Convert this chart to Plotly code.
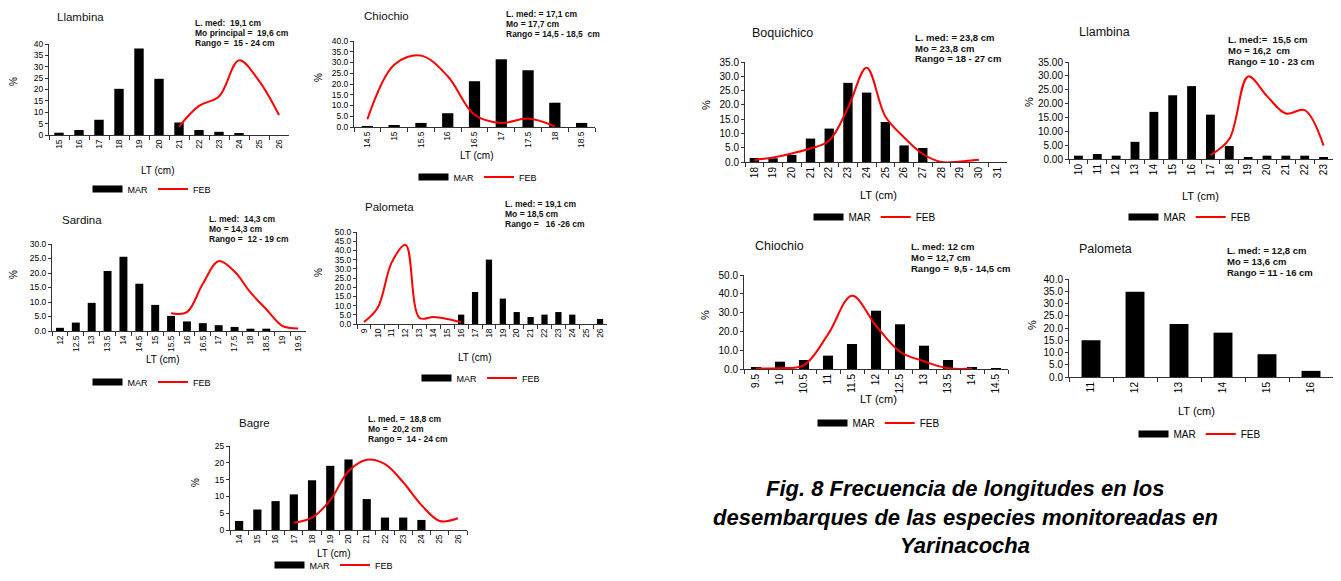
import plotly.graph_objects as go

# window is 1341x581; the page body keeps its default 8px margin, so the
# figure is sized to fit exactly inside it and reference pixels are offset by 8
WIN_W, WIN_H = 1341, 581
OFF = 8
W, H = WIN_W - 2 * OFF, WIN_H - 2 * OFF
FONT = "Liberation Sans, Arial, sans-serif"

# ---------------- data ----------------
llambina1_lt = ["15", "16", "17", "18", "19", "20", "21", "22", "23", "24", "25", "26"]
llambina1_mar = [1.0, 2.2, 6.7, 20.3, 38.0, 24.7, 5.5, 2.2, 1.4, 0.5, 0, 0]
llambina1_feb = [None, None, None, None, None, None, 3.7, 12.8, 16.9, 32.8, 23.8, 8.8]
llambina1_stats = ["L. med:  19,1 cm", "Mo principal =  19,6 cm", "Rango =  15 - 24 cm"]

chiochio1_lt = ["14.5", "15", "15.5", "16", "16.5", "17", "17.5", "18", "18.5"]
chiochio1_mar = [0.3, 0.6, 1.9, 6.4, 21.3, 31.5, 26.4, 11.3, 1.9]
chiochio1_feb = [3.6, 29.0, 33.2, 23.6, 5.7, 1.9, 3.9, 0.3, None]
chiochio1_stats = ["L. med: = 17,1 cm", "Mo = 17,7 cm", "Rango = 14,5 - 18,5  cm"]

sardina_lt = ["12", "12.5", "13", "13.5", "14", "14.5", "15", "15.5", "16", "16.5",
              "17", "17.5", "18", "18.5", "19", "19.5"]
sardina_mar = [1.1, 2.9, 9.7, 20.7, 25.6, 16.3, 9.0, 5.2, 3.3, 2.7, 2.0, 1.4, 0.8, 0.8, 0, 0]
sardina_feb = [None, None, None, None, None, None, None, 6.1, 6.5, 16.3, 24.1, 20.5, 13.3, 7.5, 1.8, 0.9]
sardina_stats = ["L. med:  14,3 cm", "Mo = 14,3 cm", "Rango =  12 - 19 cm"]

palometa1_lt = ["9", "10", "11", "12", "13", "14", "15", "16", "17", "18", "19", "20",
                "21", "22", "23", "24", "25", "26"]
palometa1_mar = [0, 0, 0, 0, 0, 0, 0, 5.1, 17.4, 35.0, 13.8, 6.5, 3.8, 5.1, 6.5, 5.1, 0, 2.7]
palometa1_feb = [1.1, 9.0, 33.5, 43.0, 3.3, 3.8, 2.7, 0.9, None, None, None, None, None,
                 None, None, None, None, None]
palometa1_stats = ["L. med: = 19,1 cm", "Mo = 18,5 cm", "Rango =   16 -26 cm"]

bagre_lt = ["14", "15", "16", "17", "18", "19", "20", "21", "22", "23", "24", "25", "26"]
bagre_mar = [2.7, 6.1, 8.6, 10.6, 14.8, 19.1, 21.0, 9.2, 3.7, 3.7, 3.0, 0, 0]
bagre_feb = [None, None, None, 2.2, 3.7, 8.9, 17.5, 20.9, 19.6, 14.2, 7.4, 2.7, 3.5]
bagre_stats = ["L. med. =  18,8 cm", "Mo =  20,2 cm", "Rango =  14 - 24 cm"]

boquichico_lt = ["18", "19", "20", "21", "22", "23", "24", "25", "26", "27", "28", "29", "30", "31"]
boquichico_mar = [1.4, 1.3, 2.5, 8.2, 11.7, 27.7, 24.3, 14.0, 5.8, 4.9, 0, 0, 0, 0]
boquichico_feb = [0.7, 1.6, 3.0, 4.7, 7.5, 18.9, 33.0, 15.9, 8.6, 2.8, 0.0, 0.2, 0.8, None]
boquichico_stats = ["L. med: = 23,8 cm", "Mo = 23,8 cm", "Rango = 18 - 27 cm"]

llambina2_lt = ["10", "11", "12", "13", "14", "15", "16", "17", "18", "19", "20", "21", "22", "23"]
llambina2_mar = [1.2, 1.8, 1.2, 6.2, 17.0, 23.0, 26.3, 16.0, 4.7, 0.6, 1.2, 1.2, 1.2, 0.6]
llambina2_feb = [None, None, None, None, None, None, None, 1.4, 7.2, 29.8, 22.7, 16.4, 17.6, 4.8]
llambina2_stats = ["L. med:=  15,5 cm", "Mo = 16,2  cm", "Rango = 10 - 23 cm"]

chiochio2_lt = ["9.5", "10", "10.5", "11", "11.5", "12", "12.5", "13", "13.5", "14", "14.5"]
chiochio2_mar = [0.9, 3.9, 4.8, 7.1, 13.3, 31.0, 23.8, 12.4, 4.8, 0.7, 0.5]
chiochio2_feb = [0.3, 0.4, 2.1, 18.4, 39.0, 23.0, 9.2, 4.1, 0.4, 0.2, None]
chiochio2_stats = ["L. med: 12 cm", "Mo = 12,7 cm", "Rango =  9,5 - 14,5 cm"]

palometa2_lt = ["11", "12", "13", "14", "15", "16"]
palometa2_mar = [15.0, 34.8, 21.6, 18.1, 9.3, 2.5]
palometa2_feb = [None, None, None, None, None, None]
palometa2_stats = ["L. med: = 12,8 cm", "Mo = 13,6 cm", "Rango = 11 - 16 cm"]

caption_lines = ["Fig. 8 Frecuencia de longitudes en los",
                 "desembarques de las especies monitoreadas en",
                 "Yarinacocha"]

# ---------------- layout config (reference window pixels) ----------------
panels = [
    dict(title="Llambina", lt=llambina1_lt, mar=llambina1_mar, feb=llambina1_feb, stats=llambina1_stats,
         box=(49, 289, 44, 135), ymax=40, dtick=5, fmt="d", title_xy=(55, 17), stats_xy=(193, 23),
         pct_xy=(13, 82), lt_xy=(158, 170), leg_xy=(152, 189), big=False, bw=0.47),
    dict(title="Chiochio", lt=chiochio1_lt, mar=chiochio1_mar, feb=chiochio1_feb, stats=chiochio1_stats,
         box=(354, 595, 41, 127), ymax=40, dtick=5, fmt=".1f", title_xy=(362, 16), stats_xy=(504, 14),
         pct_xy=(319, 78), lt_xy=(477, 155), leg_xy=(478, 177), big=False, bw=0.42),
    dict(title="Sardina", lt=sardina_lt, mar=sardina_mar, feb=sardina_feb, stats=sardina_stats,
         box=(52, 306, 244, 331), ymax=30, dtick=5, fmt=".1f", title_xy=(60, 220), stats_xy=(207, 219),
         pct_xy=(13, 275), lt_xy=(163, 359), leg_xy=(152, 382), big=False, bw=0.5),
    dict(title="Palometa", lt=palometa1_lt, mar=palometa1_mar, feb=palometa1_feb, stats=palometa1_stats,
         box=(357, 607, 232, 324), ymax=50, dtick=5, fmt=".1f", title_xy=(363, 207), stats_xy=(503, 204),
         pct_xy=(318, 273), lt_xy=(475, 357), leg_xy=(481, 378), big=False, bw=0.45),
    dict(title="Bagre", lt=bagre_lt, mar=bagre_mar, feb=bagre_feb, stats=bagre_stats,
         box=(230, 467, 446, 530), ymax=25, dtick=5, fmt="d", title_xy=(237, 423), stats_xy=(366, 419),
         pct_xy=(195, 483), lt_xy=(334, 553), leg_xy=(334, 565), big=False, bw=0.45),
    dict(title="Boquichico", lt=boquichico_lt, mar=boquichico_mar, feb=boquichico_feb, stats=boquichico_stats,
         box=(745, 1007, 62, 162), ymax=35, dtick=5, fmt=".1f", title_xy=(750, 33), stats_xy=(913, 37),
         pct_xy=(706, 105), lt_xy=(878, 195), leg_xy=(875, 217), big=True, bw=0.5),
    dict(title="Llambina", lt=llambina2_lt, mar=llambina2_mar, feb=llambina2_feb, stats=llambina2_stats,
         box=(1069, 1333, 62, 159), ymax=35, dtick=5, fmt=".2f", title_xy=(1077, 32), stats_xy=(1226, 39),
         pct_xy=(1029, 102), lt_xy=(1200, 196), leg_xy=(1190, 217), big=True, bw=0.47),
    dict(title="Chiochio", lt=chiochio2_lt, mar=chiochio2_mar, feb=chiochio2_feb, stats=chiochio2_stats,
         box=(744, 1008, 275, 369), ymax=50, dtick=10, fmt=".1f", title_xy=(753, 246), stats_xy=(909, 246),
         pct_xy=(705, 315), lt_xy=(878, 399), leg_xy=(879, 423), big=True, bw=0.42),
    dict(title="Palometa", lt=palometa2_lt, mar=palometa2_mar, feb=palometa2_feb, stats=palometa2_stats,
         box=(1069, 1333, 279, 377), ymax=40, dtick=5, fmt=".1f", title_xy=(1077, 249), stats_xy=(1225, 250),
         pct_xy=(1032, 325), lt_xy=(1196, 411), leg_xy=(1200, 434), big=True, bw=0.43),
]


def fx(x):
    return min(max((x - OFF) / W, 0.0), 1.0)


def fy(y):
    return min(max(1 - (y - OFF) / H, 0.0), 1.0)


fig = go.Figure()
annotations = []
layout = {}
AXC = "#333333"

for i, p in enumerate(panels, start=1):
    sfx = "" if i == 1 else str(i)
    leg = "legend" + sfx
    tick_sz = 10 if p["big"] else 8.5
    title_sz = 12.5 if p["big"] else 11.5
    stat_sz = 9.5 if p["big"] else 8.5
    stat_gap = 11 if p["big"] else 10
    lab_sz = 11 if p["big"] else 10
    leg_sz = 10 if p["big"] else 9
    n = len(p["lt"])

    fig.add_trace(go.Bar(
        x=p["lt"], y=p["mar"], name="MAR", width=p["bw"],
        marker=dict(color="black", line=dict(width=0)),
        xaxis="x" + sfx, yaxis="y" + sfx, showlegend=False))
    # legend entry for MAR drawn as a wide black block
    fig.add_trace(go.Scatter(
        x=p["lt"], y=[None] * n, name="MAR", mode="lines",
        line=dict(color="black", width=7),
        xaxis="x" + sfx, yaxis="y" + sfx, legend=leg, showlegend=True))
    fig.add_trace(go.Scatter(
        x=p["lt"], y=p["feb"], name="FEB", mode="lines",
        line=dict(color="#ff0000", width=2, shape="spline", smoothing=1.0),
        connectgaps=False, xaxis="x" + sfx, yaxis="y" + sfx, legend=leg, showlegend=True))

    x0, x1, y0, y1 = p["box"]
    layout["xaxis" + sfx] = dict(
        domain=[fx(x0), fx(x1)], anchor="y" + sfx, type="category",
        categoryorder="array", categoryarray=p["lt"], range=[-0.5, n - 0.5],
        tickangle=-90, ticks="outside", tickson="boundaries", ticklen=4, tickcolor=AXC,
        showline=True, linecolor=AXC, linewidth=1, showgrid=False, zeroline=False,
        tickfont=dict(size=tick_sz, color="black", family=FONT), fixedrange=True)
    layout["yaxis" + sfx] = dict(
        domain=[fy(y1), fy(y0)], anchor="x" + sfx, range=[0, p["ymax"]],
        dtick=p["dtick"], tick0=0, tickformat=p["fmt"], ticks="outside", ticklen=3,
        tickcolor=AXC, showline=True, linecolor=AXC, linewidth=1, showgrid=False,
        zeroline=False, tickfont=dict(size=tick_sz, color="black", family=FONT), fixedrange=True)
    layout[leg] = dict(
        x=fx(p["leg_xy"][0]), y=fy(p["leg_xy"][1]), xanchor="center", yanchor="middle",
        orientation="h", bgcolor="rgba(0,0,0,0)", font=dict(size=leg_sz, family=FONT, color="black"),
        itemclick=False, itemdoubleclick=False, tracegroupgap=0, itemwidth=30)

    annotations.append(dict(text=p["title"], x=fx(p["title_xy"][0]), y=fy(p["title_xy"][1]),
                            xref="paper", yref="paper", xanchor="left", yanchor="middle",
                            showarrow=False, font=dict(size=title_sz, family=FONT, color="#111111")))
    for k, line in enumerate(p["stats"]):
        annotations.append(dict(text="<b>" + line.replace("  ", "&nbsp; ") + "</b>",
                                x=fx(p["stats_xy"][0]), y=fy(p["stats_xy"][1] + k * stat_gap),
                                xref="paper", yref="paper", xanchor="left", yanchor="middle",
                                showarrow=False, font=dict(size=stat_sz, family=FONT, color="#111111")))
    annotations.append(dict(text="%", x=fx(p["pct_xy"][0]), y=fy(p["pct_xy"][1]), textangle=-90,
                            xref="paper", yref="paper", xanchor="center", yanchor="middle",
                            showarrow=False, font=dict(size=lab_sz, family=FONT, color="black")))
    annotations.append(dict(text="LT (cm)", x=fx(p["lt_xy"][0]), y=fy(p["lt_xy"][1]),
                            xref="paper", yref="paper", xanchor="center", yanchor="middle",
                            showarrow=False, font=dict(size=lab_sz, family=FONT, color="black")))

for k, (line, ypix) in enumerate(zip(caption_lines, [488, 517, 545])):
    annotations.append(dict(text="<b><i>" + line + "</i></b>", x=fx(965), y=fy(ypix),
                            xref="paper", yref="paper", xanchor="center", yanchor="middle",
                            showarrow=False, font=dict(size=22, family=FONT, color="black")))

fig.update_layout(
    width=W, height=H, margin=dict(l=0, r=0, t=0, b=0, autoexpand=False),
    paper_bgcolor="white", plot_bgcolor="white",
    annotations=annotations, hovermode=False, **layout)

fig.write_html("out.html", config={"displayModeBar": False})
